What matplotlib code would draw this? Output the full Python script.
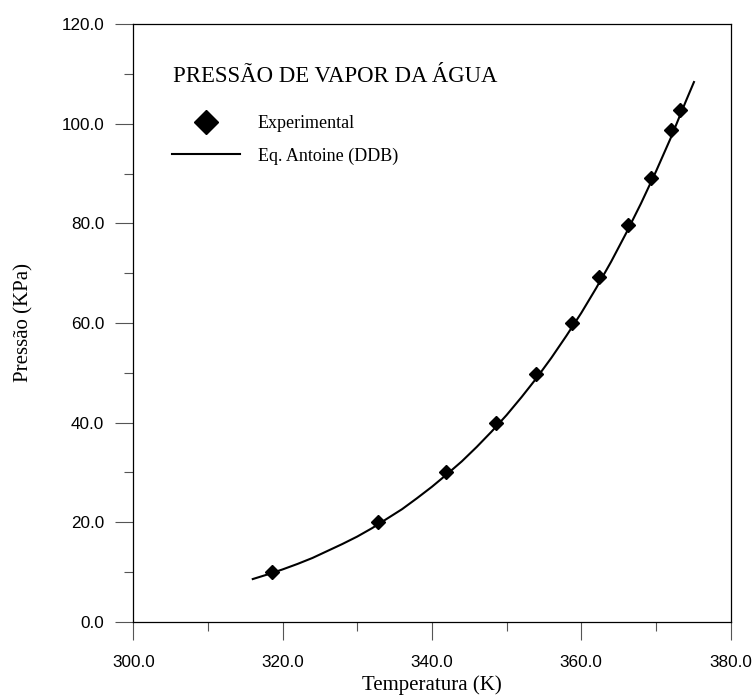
import matplotlib
matplotlib.use("Agg")
import matplotlib.pyplot as plt
from matplotlib.ticker import MultipleLocator, FormatStrFormatter

# experimental points (K, kPa)
temp_exp = [318.6, 332.8, 341.9, 348.6, 353.9, 358.7, 362.4, 366.2, 369.3, 372.05, 373.2]
pres_exp = [10.0, 20.0, 30.1, 40.0, 49.8, 59.9, 69.3, 79.7, 89.1, 98.8, 102.8]

# Antoine curve
temp_ant = [316, 318, 320, 322, 324, 326, 328, 330, 332, 334, 336, 338, 340,
            342, 344, 346, 348, 350, 352, 354, 356, 358, 360, 362, 364, 366,
            368, 370, 372, 374, 375.1]
pres_ant = [8.56, 9.49, 10.5, 11.6, 12.8, 14.2, 15.6, 17.1, 18.8, 20.7, 22.6,
            24.8, 27.1, 29.6, 32.2, 35.1, 38.2, 41.5, 45.1, 48.9, 53.0, 57.4,
            62.0, 67.0, 72.3, 78.0, 84.0, 90.4, 97.2, 104.5, 108.4]

serif = "Liberation Serif"
sans = "Liberation Sans"

fig = plt.figure(figsize=(7.55, 6.96), dpi=100)
ax = fig.add_axes([0.1766, 0.1068, 0.791, 0.8583])

ax.plot(temp_ant, pres_ant, color="black", lw=1.5, label="Eq. Antoine (DDB)")
ax.plot(temp_exp, pres_exp, "D", color="black", ms=7.5, label="Experimental")

ax.set_xlim(300, 380)
ax.set_ylim(0, 120)
ax.xaxis.set_major_locator(MultipleLocator(20))
ax.xaxis.set_minor_locator(MultipleLocator(10))
ax.yaxis.set_major_locator(MultipleLocator(20))
ax.yaxis.set_minor_locator(MultipleLocator(10))
ax.xaxis.set_major_formatter(FormatStrFormatter("%.1f"))
ax.yaxis.set_major_formatter(FormatStrFormatter("%.1f"))

ax.tick_params(which="major", direction="out", length=13, width=0.8, color="#555555")
ax.tick_params(which="minor", direction="out", length=6.5, width=0.8, color="#555555")
ax.tick_params(axis="x", which="major", pad=11)
ax.tick_params(axis="y", which="major", pad=8)
for lab in ax.get_xticklabels() + ax.get_yticklabels():
    lab.set_fontfamily(sans)
    lab.set_fontsize(12.3)
for s in ax.spines.values():
    s.set_linewidth(0.9)

ax.set_xlabel("Temperatura (K)", fontfamily=serif, fontsize=15)
ax.set_ylabel("Pressão (KPa)", fontfamily=serif, fontsize=15)
ax.xaxis.set_label_coords(0.5, -0.09)
ax.yaxis.set_label_coords(-0.168, 0.5)

ax.text(0.0665, 0.912, "PRESSÃO DE VAPOR DA ÁGUA", transform=ax.transAxes,
        family=serif, fontsize=16.4, ha="left", va="center")

h, l = ax.get_legend_handles_labels()
leg = ax.legend([h[1], h[0]], [l[1], l[0]], loc="upper left",
                bbox_to_anchor=(0.065, 0.848), frameon=False,
                prop={"family": serif, "size": 13},
                handlelength=3.75, handletextpad=1.0, labelspacing=0.85,
                markerscale=1.65, borderpad=0, borderaxespad=0)

fig.savefig("out.png", dpi=100)
